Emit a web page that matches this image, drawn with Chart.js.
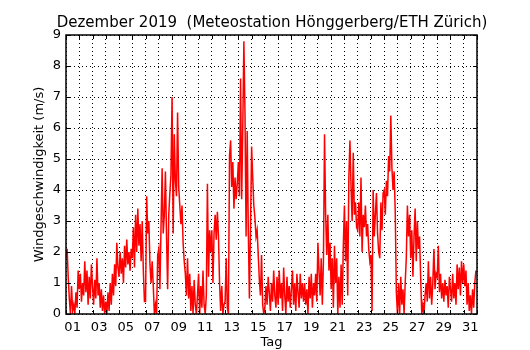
<!DOCTYPE html>
<html>
<head>
<meta charset="utf-8">
<script src="https://cdn.jsdelivr.net/npm/chart.js@4.4.0/dist/chart.umd.min.js"></script>
<style>
  html, body { margin: 0; padding: 0; background: #fff; }
</style>
</head>
<body>
<canvas id="myChart" width="530" height="350"></canvas>
<script>
'use strict';

// wind speed readings, 12 per day (every 2 hours), one row per day
const stepsPerDay = 12;
const windSpeed = [
  1.8, 2.1, 1.2, 0.5, 0.0, 0.9, 0.1, 0.3, 0.0, 0.7, 0.2, 1.4,
  0.8, 1.3, 0.4, 1.0, 0.6, 1.7, 0.7, 1.4, 0.3, 1.2, 0.5, 1.6,
  0.9, 0.3, 1.1, 0.5, 1.8, 0.6, 1.0, 0.2, 0.8, 0.1, 0.6, 0.0,
  0.4, 0.0, 0.7, 0.1, 1.0, 0.3, 1.3, 0.6, 1.6, 0.9, 2.3, 1.5,
  1.2, 2.0, 1.3, 1.8, 1.0, 2.2, 1.5, 2.4, 1.6, 2.0, 1.4, 2.1,
  1.8, 2.8, 1.5, 3.2, 2.0, 3.4, 2.2, 2.9, 1.7, 3.0, 1.4, 0.4,
  0.4, 3.8, 2.6, 3.0, 1.6, 1.0, 1.7, 0.9, 0.0, 0.3, 0.0, 1.9,
  2.1, 0.8, 2.8, 4.7, 2.6, 3.2, 4.6, 2.5, 0.8, 3.2, 3.9, 4.5,
  7.0, 2.6, 5.8, 4.3, 3.8, 6.5, 4.1, 3.5, 2.9, 3.5, 2.3, 1.7,
  1.3, 0.6, 1.8, 0.5, 1.3, 0.1, 0.9, 0.0, 1.1, 0.3, 0.0, 0.6,
  1.3, 0.0, 0.9, 0.2, 1.4, 0.3, 0.0, 0.6, 4.2, 1.2, 2.7, 2.0,
  2.7, 1.0, 2.6, 3.2, 2.4, 3.3, 2.5, 1.0, 0.1, 0.9, 0.0, 0.3,
  0.4, 1.8, 0.2, 0.0, 5.1, 5.6, 4.1, 4.9, 3.4, 4.4, 3.7, 4.2,
  4.9, 3.8, 7.6, 3.7, 6.0, 8.8, 6.5, 2.5, 5.9, 2.7, 0.5, 2.8,
  5.4, 4.4, 3.5, 3.1, 2.5, 2.7, 1.9, 1.1, 0.6, 1.9, 0.3, 0.0,
  0.2, 0.9, 0.3, 1.2, 0.7, 0.1, 1.0, 0.4, 1.4, 0.6, 0.2, 1.2,
  0.3, 1.4, 0.5, 1.0, 0.1, 1.5, 0.6, 0.0, 1.2, 0.4, 0.9, 0.2,
  0.8, 1.4, 0.3, 1.0, 0.1, 1.3, 0.7, 0.2, 1.3, 0.5, 1.0, 0.4,
  1.0, 0.3, 0.8, 0.0, 1.2, 0.5, 1.3, 0.2, 1.0, 0.6, 1.3, 0.4,
  2.3, 1.4, 0.6, 1.8, 0.3, 1.7, 5.8, 3.2, 1.9, 3.2, 1.4, 2.3,
  0.8, 1.8, 0.2, 2.2, 1.0, 1.8, 0.0, 1.2, 0.2, 1.6, 0.3, 2.2,
  3.5, 1.7, 3.0, 0.6, 4.4, 5.6, 4.1, 3.0, 5.2, 3.2, 3.6, 2.8,
  2.7, 3.6, 2.5, 4.4, 2.0, 3.2, 2.8, 3.5, 2.5, 2.9, 2.1, 1.7,
  1.9, 0.1, 4.0, 2.5, 3.2, 3.9, 2.6, 2.0, 1.8, 3.6, 2.7, 3.9,
  4.0, 3.2, 4.3, 3.8, 5.1, 4.6, 6.4, 4.7, 4.0, 4.6, 3.3, 0.7,
  0.0, 1.0, 0.0, 1.2, 0.3, 0.8, 0.0, 1.0, 1.8, 3.5, 2.5, 3.2,
  1.8, 2.7, 1.2, 2.5, 3.4, 1.7, 3.0, 2.1, 2.5, 1.2, 0.0, 0.3,
  0.0, 0.6, 1.0, 0.4, 1.7, 0.5, 1.2, 0.3, 1.0, 2.1, 0.8, 1.3,
  1.2, 2.2, 0.7, 1.3, 0.5, 1.0, 0.4, 1.1, 0.6, 0.9, 0.2, 1.2,
  0.8, 0.4, 1.3, 0.5, 1.0, 0.3, 1.6, 0.8, 1.5, 0.6, 1.7, 1.0,
  1.6, 0.9, 1.4, 0.3, 1.0, 0.1, 0.6, 0.0, 0.8, 0.2, 1.0, 1.4
];

const numDays = 31;
const dayLabels = ['01','03','05','07','09','11','13','15','17','19','21','23','25','27','29','31'];
const yTicks = [0, 1, 2, 3, 4, 5, 6, 7, 8, 9];

const fontFam = '"DejaVu Sans", sans-serif';

let points = [];
for (let i = 0; i < windSpeed.length; i++) {
  points.push({ x: i / stepsPerDay, y: windSpeed[i] });
}

// day boundaries for grid, labels sit at noon
let dayLines = [];
for (let d = 0; d <= numDays; d++) {
  dayLines.push({ value: d });
}
let labelTicks = [];
for (let i = 0; i < dayLabels.length; i++) {
  labelTicks.push({ value: i * 2 + 0.5, label: dayLabels[i] });
}

const frameTicks = {
  id: 'frameTicks',
  afterDraw(chart) {
    const ctx = chart.ctx;
    const a = chart.chartArea;
    const xs = chart.scales.x;
    const ys = chart.scales.y;
    ctx.save();
    ctx.strokeStyle = '#000';
    ctx.lineWidth = 1;
    ctx.beginPath();
    for (let d = 0; d <= numDays; d++) {
      const px = Math.round(xs.getPixelForValue(d)) + 0.5;
      ctx.moveTo(px, a.bottom);
      ctx.lineTo(px, a.bottom - 4);
      ctx.moveTo(px, a.top);
      ctx.lineTo(px, a.top + 4);
    }
    for (let i = 0; i < yTicks.length; i++) {
      const py = Math.round(ys.getPixelForValue(yTicks[i])) + 0.5;
      ctx.moveTo(a.left, py);
      ctx.lineTo(a.left + 4, py);
      ctx.moveTo(a.right, py);
      ctx.lineTo(a.right - 4, py);
    }
    ctx.stroke();
    ctx.lineWidth = 1.5;
    ctx.strokeRect(a.left, a.top, a.right - a.left, a.bottom - a.top);
    ctx.restore();
  }
};

let ctx = document.getElementById('myChart').getContext('2d');
let myChart = new Chart(ctx, {
  type: 'line',
  data: {
    datasets: [{
      label: 'Wind',
      data: points,
      borderColor: '#ff0000',
      borderWidth: 1.5,
      pointRadius: 0,
      tension: 0,
      fill: false
    }]
  },
  options: {
    responsive: false,
    animation: false,
    devicePixelRatio: 1,
    layout: { padding: { left: 14, right: 0, top: 0, bottom: 0 } },
    plugins: {
      legend: { display: false },
      tooltip: { enabled: false },
      title: {
        display: true,
        fullSize: true,
        text: 'Dezember 2019  (Meteostation Hönggerberg/ETH Zürich)',
        color: '#000',
        font: { family: fontFam, size: 15, weight: 'normal', lineHeight: 1.2 },
        padding: { top: 14, bottom: 3 }
      }
    },
    scales: {
      x: {
        type: 'linear',
        position: 'bottom',
        min: 0,
        max: numDays,
        afterBuildTicks: (scale) => { scale.ticks = dayLines.map(t => ({ value: t.value })); },
        afterFit: (scale) => { scale.height = 0; },
        ticks: { display: false },
        grid: { color: '#000', lineWidth: 1, drawTicks: false },
        border: { display: false, dash: [1, 3] }
      },
      x2: {
        type: 'linear',
        position: 'bottom',
        min: 0,
        max: numDays,
        afterBuildTicks: (scale) => { scale.ticks = labelTicks.map(t => ({ value: t.value, label: t.label })); },
        afterFit: (scale) => { scale.height = 36; },
        ticks: {
          autoSkip: false,
          maxRotation: 0,
          color: '#000',
          padding: 6,
          font: { family: fontFam, size: 13 },
          callback: function(value) {
            const t = labelTicks.find(l => l.value === value);
            return t ? t.label : '';
          }
        },
        grid: { display: false, drawTicks: false },
        border: { display: false },
        title: {
          display: true,
          text: 'Tag',
          color: '#000',
          font: { family: fontFam, size: 13 },
          padding: { top: 0, bottom: 0 }
        }
      },
      y: {
        min: 0,
        max: 9,
        afterBuildTicks: (scale) => { scale.ticks = yTicks.map(v => ({ value: v })); },
        afterFit: (scale) => { scale.width = 52; },
        ticks: {
          color: '#000',
          padding: 5,
          font: { family: fontFam, size: 13 }
        },
        grid: { color: '#000', lineWidth: 1, drawTicks: false },
        border: { display: false, dash: [1, 3] },
        title: {
          display: true,
          text: 'Windgeschwindigkeit (m/s)',
          color: '#000',
          font: { family: fontFam, size: 13 },
          padding: { top: 18, bottom: 0 }
        }
      },
      yRight: {
        position: 'right',
        min: 0,
        max: 9,
        afterFit: (scale) => { scale.width = 53; },
        ticks: { display: false },
        grid: { display: false, drawTicks: false },
        border: { display: false }
      }
    }
  },
  plugins: [frameTicks]
});
</script>
</body>
</html>
